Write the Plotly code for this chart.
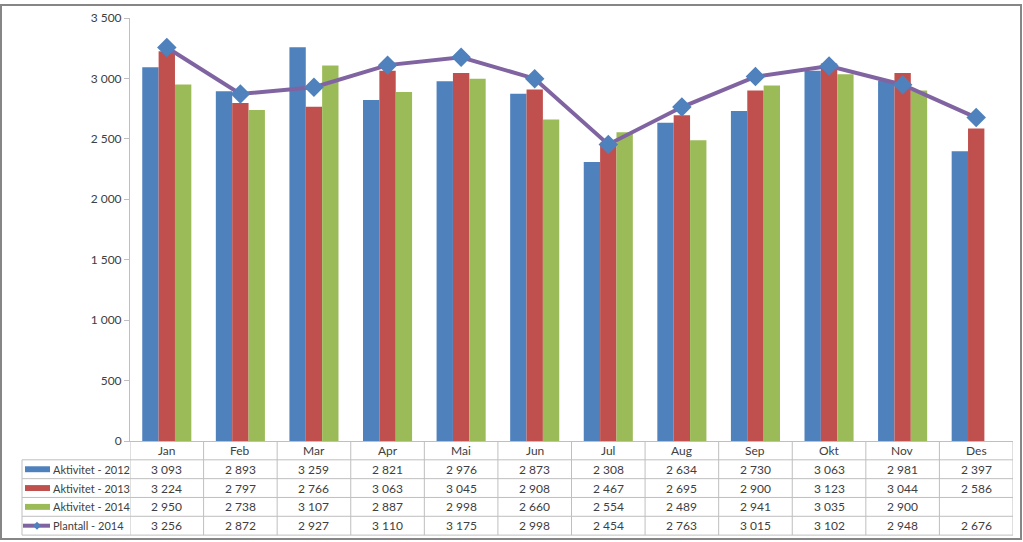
import plotly.graph_objects as go

months = ["Jan", "Feb", "Mar", "Apr", "Mai", "Jun", "Jul", "Aug", "Sep", "Okt", "Nov", "Des"]
akt_2012 = [3093, 2893, 3259, 2821, 2976, 2873, 2308, 2634, 2730, 3063, 2981, 2397]
akt_2013 = [3224, 2797, 2766, 3063, 3045, 2908, 2467, 2695, 2900, 3123, 3044, 2586]
akt_2014 = [2950, 2738, 3107, 2887, 2998, 2660, 2554, 2489, 2941, 3035, 2900, None]
plan_2014 = [3256, 2872, 2927, 3110, 3175, 2998, 2454, 2763, 3015, 3102, 2948, 2676]

series_names = ["Aktivitet - 2012", "Aktivitet - 2013", "Aktivitet - 2014", "Plantall - 2014"]
y_ticks = [0, 500, 1000, 1500, 2000, 2500, 3000, 3500]

BLUE, RED, GREEN, PURPLE = "#4F81BD", "#C0504D", "#9BBB59", "#8064A2"
FONT = "Lato"

W, H = 1023, 542
L, R, T, B = 130, 10, 14, 101
PW, PH = W - L - R, H - T - B


def px(p):
    return (p - L) / PW


def py(p):
    return (H - B - p) / PH


def fmt(v):
    return "" if v is None else f"{v:,}".replace(",", " ")


fig = go.Figure()
for name, vals, col in zip(series_names[:3], [akt_2012, akt_2013, akt_2014], [BLUE, RED, GREEN]):
    fig.add_trace(go.Bar(x=months, y=vals, name=name, marker_color=col, marker_line_width=0))
fig.add_trace(go.Scatter(x=months, y=plan_2014, name=series_names[3], mode="lines+markers",
                         line=dict(color=PURPLE, width=4),
                         marker=dict(symbol="diamond", size=15, color=BLUE)))

shapes = []
ann = []
grid = "#BFBFBF"
# table geometry (pixels)
row_lines = [460, 479, 498, 517, 536]
row_centers = [450.5, 469.5, 488.5, 507.5, 526.5]
left_x = 22

# horizontal lines
for i, yl in enumerate(row_lines):
    shapes.append(dict(type="line", xref="paper", yref="paper", x0=px(left_x), x1=1, y0=py(yl), y1=py(yl),
                       line=dict(color=grid, width=1)))
# left border of legend column
shapes.append(dict(type="line", xref="paper", yref="paper", x0=px(left_x), x1=px(left_x),
                   y0=py(row_lines[0]), y1=py(row_lines[-1]), line=dict(color=grid, width=1)))
# vertical category boundaries
for i in range(len(months) + 1):
    shapes.append(dict(type="line", xref="x", yref="paper", x0=i - 0.5, x1=i - 0.5, y0=0, y1=py(row_lines[-1]),
                       line=dict(color=grid, width=1)))

# header
for m in months:
    ann.append(dict(x=m, y=py(row_centers[0]), xref="x", yref="paper", text=m, showarrow=False,
                    font=dict(family=FONT, size=12, color="#404040"), yanchor="middle"))
# values
for r, vals in enumerate([akt_2012, akt_2013, akt_2014, plan_2014]):
    yc = py(row_centers[r + 1])
    for m, v in zip(months, vals):
        ann.append(dict(x=m, y=yc, xref="x", yref="paper", text=fmt(v), showarrow=False,
                        font=dict(family=FONT, size=12, color="#404040"), yanchor="middle"))
    # legend label
    ann.append(dict(x=px(51), y=yc, xref="paper", yref="paper", text=series_names[r], showarrow=False,
                    xanchor="left", yanchor="middle", font=dict(family=FONT, size=11, color="#404040")))

# legend keys
for r, col in enumerate([BLUE, RED, GREEN]):
    yc = row_centers[r + 1]
    shapes.append(dict(type="rect", xref="paper", yref="paper", x0=px(25), x1=px(50), y0=py(yc + 3), y1=py(yc - 3),
                       fillcolor=col, line=dict(width=0)))
yc = row_centers[4]
shapes.append(dict(type="line", xref="paper", yref="paper", x0=px(23), x1=px(50), y0=py(yc), y1=py(yc),
                   line=dict(color=PURPLE, width=4)))
cx = 37
shapes.append(dict(type="path", xref="paper", yref="paper",
                   path=f"M {px(cx-4)} {py(yc)} L {px(cx)} {py(yc-4)} L {px(cx+4)} {py(yc)} L {px(cx)} {py(yc+4)} Z",
                   fillcolor=BLUE, line=dict(width=0)))

# outer frame
shapes.append(dict(type="rect", xref="paper", yref="paper", x0=px(1), x1=px(1021), y0=py(1), y1=py(540),
                   line=dict(color="#868686", width=2)))

fig.update_layout(
    width=W, height=H,
    margin=dict(l=L, r=R, t=T, b=B, pad=0),
    paper_bgcolor="white", plot_bgcolor="white",
    barmode="group", bargap=0.333, bargroupgap=0,
    showlegend=False,
    shapes=shapes, annotations=ann,
    separators=", ",
    font=dict(family=FONT, size=12, color="#404040"),
)
fig.update_xaxes(range=[-0.5, 11.5], showticklabels=False, showline=True, linecolor=grid, linewidth=1,
                 showgrid=False, ticks="", zeroline=False)
fig.update_yaxes(range=[0, 3500], tickvals=y_ticks, tickformat=",d", showline=True, linecolor=grid, linewidth=1,
                 showgrid=False, ticks="outside", ticklen=5, tickcolor=grid, zeroline=False,
                 tickfont=dict(family=FONT, size=12, color="#404040"))

fig.write_html("out.html")
